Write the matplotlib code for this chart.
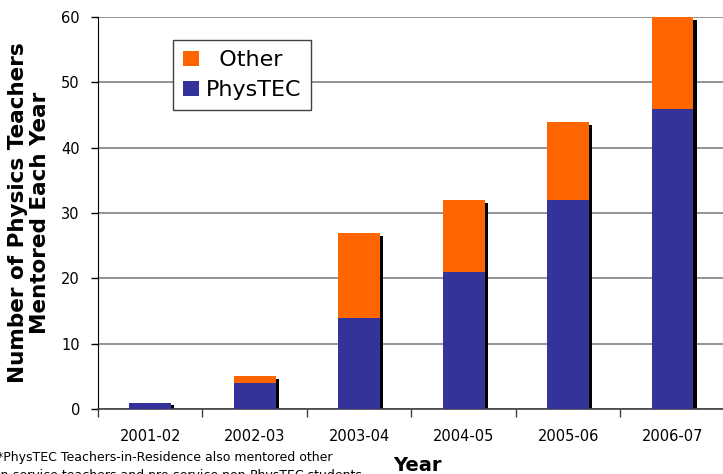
import matplotlib
matplotlib.use('Agg')
import matplotlib.pyplot as plt
import numpy as np

# data
years = ['2001-02', '2002-03', '2003-04', '2004-05', '2005-06', '2006-07']
physyec = [1, 4, 14, 21, 32, 46]
other = [0, 1, 13, 11, 12, 14]

BLUE = '#333399'
ORANGE = '#FF6600'

plt.rcParams['font.family'] = 'DejaVu Sans'

fig = plt.figure(figsize=(7.23, 4.74), dpi=100)
ax = fig.add_axes([0.1355, 0.137, 0.867, 0.827])

x = np.arange(len(years))
total = np.array(physyec) + np.array(other)
w = 0.4

# drop shadow behind each stack
ax.bar(x + 0.03, total - 0.45, w, color='black', zorder=2)
ax.bar(x, physyec, w, color=BLUE, label='PhysTEC', zorder=3)
ax.bar(x, other, w, bottom=physyec, color=ORANGE, label='  Other', zorder=3)

ax.set_xlim(-0.5, 5.5)
ax.set_ylim(0, 60)
ax.set_yticks(range(0, 61, 10))
ax.yaxis.grid(True, color='#808080', lw=1.2, zorder=0)
ax.set_axisbelow(True)

ax.set_xticks(x)
ax.set_xticklabels(years, fontsize=10.5)
ax.set_xticks(np.arange(-0.5, 6, 1), minor=True)
ax.tick_params(axis='x', which='major', length=0, pad=14)
ax.tick_params(axis='x', which='minor', length=6, width=1, color='#404040', direction='out')
ax.tick_params(axis='y', labelsize=10.5, length=5, width=1, direction='out', pad=8)

for s in ['top', 'right']:
    ax.spines[s].set_visible(False)
ax.spines['left'].set_color('black')
ax.spines['bottom'].set_color('#404040')
ax.spines['bottom'].set_linewidth(1.2)

ax.set_ylabel('Number of Physics Teachers\nMentored Each Year', fontsize=15.5,
              fontweight='bold', labelpad=8, linespacing=1.1)

h, l = ax.get_legend_handles_labels()
leg = ax.legend(h[::-1], l[::-1], loc='upper left', bbox_to_anchor=(0.12, 0.941),
                borderaxespad=0, fontsize=16, handlelength=0.7, handleheight=0.7,
                handletextpad=0.3, fancybox=False, edgecolor='#404040',
                framealpha=1, borderpad=0.45, labelspacing=0.45)
leg.get_frame().set_linewidth(1)

fig.text(0.577, 0.006, 'Year', fontsize=14, fontweight='bold', ha='center')
fig.text(-0.004, 0.049, '*PhysTEC Teachers-in-Residence also mentored other\n'
         'in-service teachers and pre-service non-PhysTEC students',
         fontsize=9, va='top', ha='left', linespacing=1.55)

fig.savefig('out.png', dpi=100)
